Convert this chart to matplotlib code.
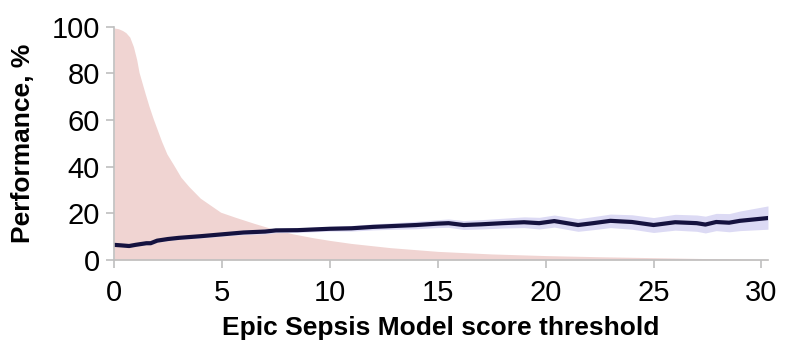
import matplotlib
matplotlib.use("Agg")
import matplotlib.pyplot as plt

plt.rcParams['font.family'] = ['Liberation Sans', 'DejaVu Sans']

# share of patients above threshold (pink area)
area_x = [0, 0.2, 0.4, 0.55, 0.73, 0.9, 1.05, 1.16, 1.3, 1.44, 1.62, 1.82, 2.0,
          2.2, 2.45, 2.78, 3.1, 3.47, 4.0, 4.94, 5.63, 6.5, 7.4, 8.3, 9.2, 10, 11,
          12.8, 15, 17.5, 20, 22.5, 25, 27.5, 30.3]
area_y = [99.5, 99.2, 98.4, 97.5, 95.6, 91.5, 86, 80.5, 76, 71.5, 66, 60.5, 56,
          51, 45.5, 40.5, 35.5, 31.5, 26.5, 20.5, 18.3, 15.7, 13.2, 11.2, 9.6, 8.4, 7.1,
          5.3, 3.7, 2.6, 1.9, 1.4, 1.0, 0.6, 0.3]

# performance line with confidence band
line_x = [0, 0.3, 0.7, 1.0, 1.5, 1.7, 2.0, 2.5, 3.0, 4.0, 5.0, 6.0, 7.0, 7.5, 8.5,
          10, 11, 12, 13, 14, 15, 15.5, 16.2, 17, 18, 19, 19.7, 20.4, 21.5, 22.2,
          23.0, 24, 25, 26, 27, 27.4, 27.9, 28.5, 29, 30.3]
line_y = [6.5, 6.3, 6.0, 6.5, 7.2, 7.2, 8.3, 9.0, 9.5, 10.2, 11, 11.8, 12.2, 12.7, 12.8,
          13.4, 13.6, 14.2, 14.6, 15.0, 15.6, 15.8, 15.0, 15.3, 15.8, 16.2, 15.8, 16.7, 15.0, 15.8,
          16.8, 16.3, 15.0, 16.2, 15.8, 15.2, 16.3, 16.0, 16.8, 18.0]
band_lo = [6.0, 5.8, 5.5, 6.0, 6.6, 6.6, 7.7, 8.3, 8.8, 9.4, 10.2, 10.9, 11.2, 11.7, 11.8,
           12.4, 12.4, 12.9, 13.2, 13.4, 13.9, 14.0, 13.1, 13.3, 13.7, 13.9, 13.3, 14.1, 12.3, 13.0,
           13.9, 13.2, 11.8, 12.8, 12.3, 11.6, 12.6, 12.1, 12.6, 13.2]
band_hi = [7.0, 6.8, 6.5, 7.0, 7.8, 7.8, 8.9, 9.7, 10.2, 11.0, 11.8, 12.7, 13.2, 13.7, 13.8,
           14.4, 14.8, 15.5, 16.0, 16.6, 17.3, 17.6, 16.9, 17.3, 17.9, 18.5, 18.3, 19.3, 17.7, 18.6,
           19.7, 19.4, 18.2, 19.6, 19.3, 18.8, 20.0, 19.9, 21.0, 23.2]

fig = plt.figure(figsize=(7.95, 3.47), dpi=100)
ax = fig.add_axes([0.1434, 0.2507, 0.8226, 0.672])

ax.fill_between(area_x, 0, area_y, color='#f0d4d2', linewidth=0, zorder=1)
ax.fill_between(line_x, band_lo, band_hi, color='#dcdaf4', linewidth=0, zorder=2)
ax.plot(line_x, line_y, color='#15123f', linewidth=3.0, zorder=3)

ax.set_xlim(0, 30.3)
ax.set_ylim(0, 100)
ax.set_xticks([0, 5, 10, 15, 20, 25, 30])
ax.set_yticks([0, 20, 40, 60, 80, 100])

for side in ['top', 'right']:
    ax.spines[side].set_visible(False)
for side in ['left', 'bottom']:
    ax.spines[side].set_color('#bfbfbf')
    ax.spines[side].set_linewidth(1.2)
    ax.spines[side].set_zorder(4)

ax.tick_params(axis='both', colors='#bfbfbf', length=6, width=1.2,
               labelcolor='black', labelsize=21)
ax.tick_params(axis='x', pad=8)
ax.tick_params(axis='y', pad=4)

ax.set_xlabel('Epic Sepsis Model score threshold', fontsize=19, fontweight='bold', labelpad=6)
ax.set_ylabel('Performance, %', fontsize=19, fontweight='bold', labelpad=12)

fig.savefig('out.png', dpi=100)
